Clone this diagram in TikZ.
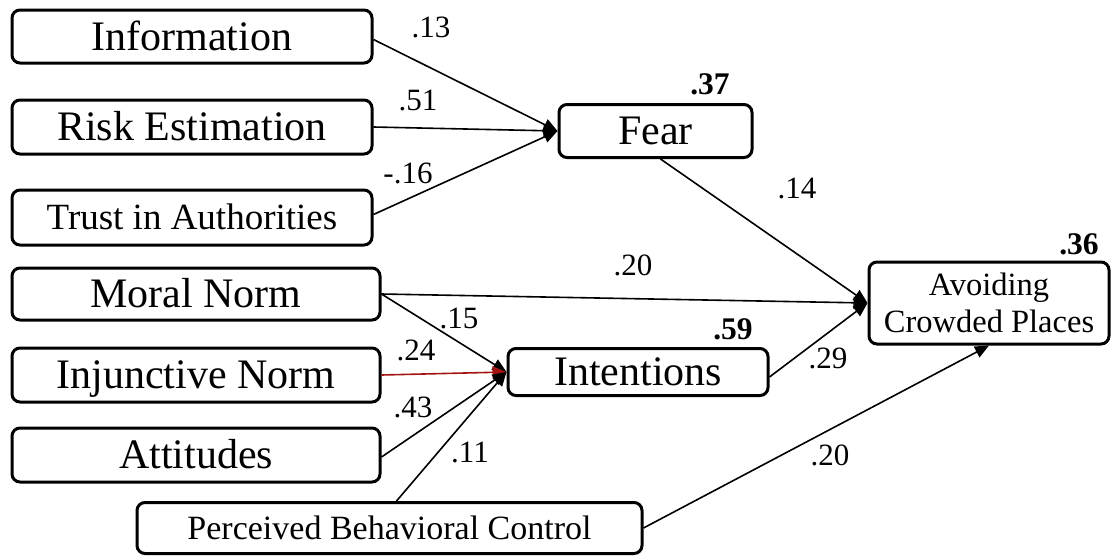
\documentclass[tikz,border=0pt]{standalone}
\usepackage{fontspec}
\setmainfont{Liberation Serif}
\usetikzlibrary{arrows.meta}
\definecolor{arrowred}{RGB}{165,20,20}
\tikzset{
  box/.style={draw, line width=3pt, rounded corners=8pt, inner sep=0pt, align=center, font=\fontsize{42}{46}\selectfont},
  onel/.style={text height=30.2pt, text depth=2.5pt},
  onemid/.style={text height=26.6pt, text depth=2.2pt},
  onesmall/.style={text height=24.5pt, text depth=2pt},
  lab/.style={inner sep=0pt, font=\fontsize{31}{33}\selectfont},
  blab/.style={inner sep=0pt, font=\fontsize{31.5}{33}\selectfont\bfseries},
  path/.style={line width=1.6pt, -{Triangle[length=14pt,width=12pt]}},
}
\begin{document}
\begin{tikzpicture}[x=1pt,y=-1pt]
\useasboundingbox (0,0) rectangle (1112,555);
% left column
\node[box, onel, minimum width=360, minimum height=53] (info) at (192,36.5) {Information};
\node[box, onel, minimum width=360, minimum height=54] (risk) at (192,127) {Risk Estimation};
\node[box, onemid, minimum width=360, minimum height=55, font=\fontsize{37}{40}\selectfont] (trust) at (192,217.5) {Trust in Authorities};
\node[box, onel, minimum width=368, minimum height=52] (moral) at (196,294) {Moral Norm};
\node[box, onel, minimum width=368, minimum height=54] (inj) at (196,375) {Injunctive Norm};
\node[box, onel, minimum width=368, minimum height=54] (att) at (196,455) {Attitudes};
\node[box, onesmall, minimum width=505, minimum height=51, font=\fontsize{34}{36}\selectfont] (pbc) at (389.5,528) {Perceived Behavioral Control};
% mediators and outcome
\node[box, onel, minimum width=193, minimum height=53] (fear) at (655.5,131) {Fear};
\node[box, onel, minimum width=260, minimum height=47] (intent) at (638,372) {Intentions};
\node[box, minimum width=240, minimum height=82, font=\fontsize{32.5}{37}\selectfont] (avoid) at (989,303) {Avoiding\\Crowded Places};
% arrows to Fear
\draw[path] ([yshift=-3pt]info.east) -- (fear.west);
\draw[path] (risk.east) -- (fear.west);
\draw[path] ([yshift=3pt]trust.east) -- (fear.west);
% arrows to Intentions
\draw[path] (moral.east) -- (intent.west);
\draw[path, arrowred] (inj.east) -- (intent.west);
\draw[path] ([yshift=-2pt]att.east) -- (intent.west);
\draw[path] ([xshift=7pt]pbc.north) -- (intent.west);
% arrows to Avoiding
\draw[path] ([xshift=5pt]fear.south) -- (avoid.west);
\draw[path] (moral.east) -- (avoid.west);
\draw[path] ([yshift=-5pt]intent.east) -- (avoid.west);
\draw[path] (pbc.east) -- (avoid.south);
% coefficients
\node[lab] (l13) at (431,27) {.13};
\node[lab] (l51) at (418,100) {.51};
\node[lab] (l16) at (408,173) {-.16};
\node[blab] (r37) at (710,84) {.37};
\node[lab] (l14) at (797,188) {.14};
\node[lab] (l20a) at (633,265) {.20};
\node[blab] (r36) at (1079,244) {.36};
\node[lab] (l15) at (459,318) {.15};
\node[lab] (l24) at (416,350) {.24};
\node[blab] (r59) at (733,329) {.59};
\node[lab] (l29) at (828,358) {.29};
\node[lab] (l43) at (413,407) {.43};
\node[lab] (l11) at (470,452) {.11};
\node[lab] (l20b) at (830,455) {.20};
\end{tikzpicture}
\end{document}
